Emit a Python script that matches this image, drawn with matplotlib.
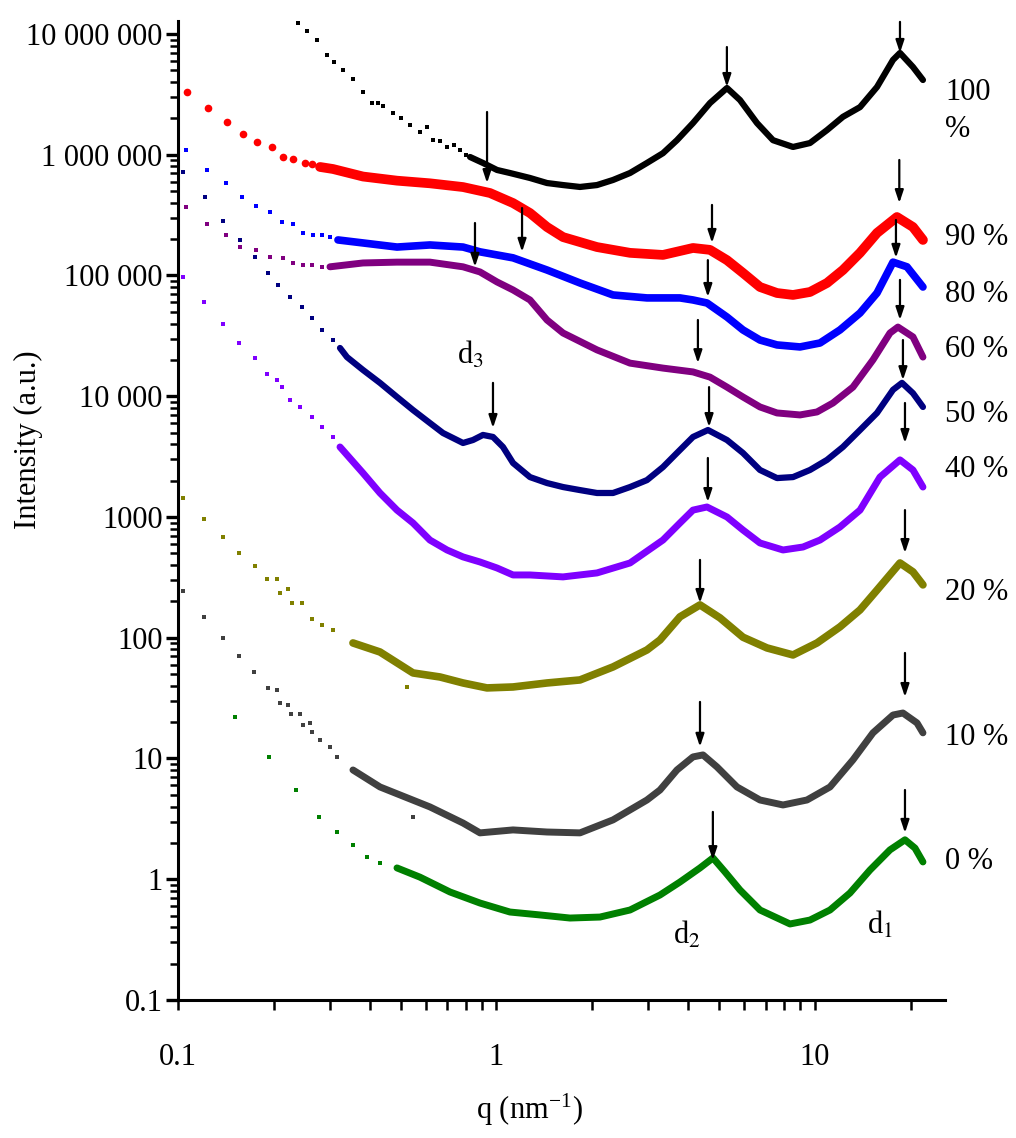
import matplotlib
matplotlib.use("Agg")
import matplotlib.pyplot as plt
from matplotlib.ticker import FixedLocator, FixedFormatter, LogLocator, NullFormatter

plt.rcParams['font.family'] = ['Liberation Serif', 'DejaVu Serif']
plt.rcParams['mathtext.fontset'] = 'stix'

# ---- data: q (nm^-1) and intensity (a.u.) ----
# sparse low-q points (drawn as dots) and dense part (drawn as a thick band)

# 100 %
q100_dots = [0.238, 0.254, 0.273, 0.293, 0.309, 0.330, 0.354, 0.381, 0.407, 0.425, 0.440,
             0.473, 0.500, 0.535, 0.575, 0.605, 0.632, 0.665, 0.699, 0.735, 0.768, 0.800]
i100_dots = [1.23e7, 1.06e7, 8.9e6, 6.7e6, 5.9e6, 5.0e6, 4.2e6, 3.3e6, 2.7e6, 2.7e6, 2.54e6,
             2.2e6, 2.0e6, 1.76e6, 1.54e6, 1.70e6, 1.32e6, 1.30e6, 1.16e6, 1.20e6, 1.09e6,
             1.0e6]
q100 = [0.826, 0.907, 1.004, 1.102, 1.274, 1.441, 1.618, 1.829, 2.068, 2.322, 2.626,
        2.968, 3.332, 3.687, 4.140, 4.681, 5.293, 5.814, 6.576, 7.383, 8.532, 9.645,
        10.91, 12.24, 13.85, 15.66, 17.58, 18.49, 20.31, 21.83]
i100 = [9.58e5, 8.55e5, 7.48e5, 7.06e5, 6.42e5, 5.83e5, 5.61e5, 5.41e5, 5.61e5, 6.18e5,
        7.06e5, 8.55e5, 1.03e6, 1.32e6, 1.83e6, 2.68e6, 3.57e6, 2.84e6, 1.83e6, 1.32e6,
        1.16e6, 1.25e6, 1.60e6, 2.06e6, 2.48e6, 3.64e6, 6.10e6, 6.97e6, 5.33e6, 4.16e6]

# 90 %
q90_dots = [0.1067, 0.1242, 0.1425, 0.1600, 0.1770, 0.1973, 0.2137, 0.2297, 0.2504, 0.2635]
i90_dots = [3.31e6, 2.44e6, 1.87e6, 1.49e6, 1.28e6, 1.16e6, 9.58e5, 9.22e5, 8.55e5, 8.38e5]
q90 = [0.2792, 0.3066, 0.3810, 0.4871, 0.6180, 0.7851, 0.9541, 1.127, 1.274, 1.441,
       1.618, 2.068, 2.626, 3.332, 4.140, 4.681, 5.293, 5.942, 6.720, 7.600, 8.532,
       9.645, 10.91, 12.24, 13.85, 15.66, 18.09, 20.31, 21.83]
i90 = [7.92e5, 7.62e5, 6.6e5, 6.1e5, 5.8e5, 5.4e5, 4.82e5, 3.98e5, 3.29e5, 2.52e5,
       2.08e5, 1.72e5, 1.54e5, 1.48e5, 1.69e5, 1.63e5, 1.34e5, 1.05e5, 8.03e4, 7.16e4,
       6.90e4, 7.30e4, 8.67e4, 1.11e5, 1.54e5, 2.25e5, 3.05e5, 2.52e5, 1.97e5]

# 80 %
q80_dots = [0.1060, 0.1233, 0.1415, 0.1588, 0.1758, 0.1945, 0.2122, 0.2297, 0.2469,
            0.2654, 0.2833, 0.3000]
i80_dots = [1.094e6, 7.48e5, 5.83e5, 4.47e5, 3.76e5, 3.36e5, 2.77e5, 2.67e5, 2.25e5,
            2.16e5, 2.16e5, 2.08e5]
q80 = [0.3179, 0.3810, 0.4871, 0.6180, 0.7851, 0.8875, 1.127, 1.441, 1.829, 2.322,
       2.968, 3.768, 4.140, 4.581, 5.293, 5.942, 6.720, 7.600, 8.974, 10.37, 11.98,
       13.85, 15.66, 17.58, 19.45, 21.83]
i80 = [1.97e5, 1.86e5, 1.72e5, 1.79e5, 1.72e5, 1.57e5, 1.40e5, 1.11e5, 8.67e4, 6.90e4,
       6.52e4, 6.52e4, 6.27e4, 5.92e4, 4.53e4, 3.54e4, 2.92e4, 2.66e4, 2.56e4, 2.76e4,
       3.54e4, 4.89e4, 7.16e4, 1.29e5, 1.18e5, 8.03e4]

# 60 %
q60_dots = [0.1060, 0.1233, 0.1415, 0.1566, 0.1758, 0.1945, 0.2137, 0.2297, 0.2469,
            0.2635, 0.2833]
i60_dots = [3.69e5, 2.67e5, 2.16e5, 1.72e5, 1.63e5, 1.42e5, 1.40e5, 1.27e5, 1.22e5,
            1.22e5, 1.18e5]
q60 = [0.3000, 0.3810, 0.4871, 0.6180, 0.7851, 0.8875, 1.004, 1.127, 1.274, 1.441,
       1.618, 2.068, 2.626, 3.332, 4.140, 4.681, 5.293, 5.942, 6.720, 7.600, 8.974,
       10.15, 11.39, 13.16, 15.21, 17.20, 18.22, 20.31, 21.83]
i60 = [1.18e5, 1.27e5, 1.29e5, 1.29e5, 1.18e5, 1.07e5, 8.84e4, 7.59e4, 6.27e4, 4.28e4,
       3.34e4, 2.42e4, 1.88e4, 1.71e4, 1.59e4, 1.44e4, 1.19e4, 9.86e3, 8.15e3, 7.27e3,
       7.00e3, 7.41e3, 8.79e3, 1.19e4, 2.00e4, 3.34e4, 3.74e4, 3.10e4, 2.11e4]

# 50 %
q50_dots = [0.1037, 0.1216, 0.1384, 0.1566, 0.1745, 0.1917, 0.2061, 0.2247, 0.2451,
            0.2635, 0.2833, 0.3066]
i50_dots = [7.20e5, 4.47e5, 2.83e5, 1.97e5, 1.42e5, 1.05e5, 8.35e4, 6.64e4, 5.49e4,
            4.44e4, 3.54e4, 2.92e4]
q50 = [0.3226, 0.3393, 0.3810, 0.4307, 0.4871, 0.5468, 0.6180, 0.6793, 0.7851, 0.8437,
       0.9070, 0.9750, 1.048, 1.127, 1.274, 1.441, 1.618, 1.829, 2.068, 2.322, 2.626,
       2.968, 3.332, 3.687, 4.140, 4.614, 5.293, 5.942, 6.720, 7.600, 8.532, 9.645,
       10.91, 12.24, 13.85, 15.66, 17.58, 18.76, 20.31, 21.83]
i50 = [2.51e4, 2.11e4, 1.65e4, 1.29e4, 9.86e3, 7.69e3, 6.00e3, 4.96e3, 4.10e3, 4.34e3,
       4.78e3, 4.60e3, 3.80e3, 2.80e3, 2.14e3, 1.91e3, 1.77e3, 1.67e3, 1.58e3, 1.58e3,
       1.77e3, 2.02e3, 2.59e3, 3.39e3, 4.60e3, 5.25e3, 4.34e3, 3.39e3, 2.45e3, 2.10e3,
       2.14e3, 2.45e3, 2.97e3, 3.80e3, 5.25e3, 7.27e3, 1.13e4, 1.29e4, 1.06e4, 8.15e3]

# 40 %
q40_dots = [0.1037, 0.1207, 0.1384, 0.1554, 0.1745, 0.1903, 0.2046, 0.2122, 0.2247,
            0.2415, 0.2635, 0.2833, 0.3066]
i40_dots = [9.73e4, 6.04e4, 3.96e4, 2.76e4, 2.07e4, 1.53e4, 1.36e4, 1.19e4, 9.31e3,
            8.15e3, 6.73e3, 5.56e3, 4.60e3]
q40 = [0.3226, 0.3810, 0.4307, 0.4871, 0.5468, 0.6180, 0.6992, 0.7851, 0.8875, 1.004,
       1.127, 1.274, 1.618, 2.068, 2.626, 3.332, 3.768, 4.140, 4.581, 5.293, 5.942,
       6.720, 7.937, 9.171, 10.37, 11.98, 13.85, 16.00, 18.49, 20.31, 21.83]
i40 = [3.80e3, 2.31e3, 1.58e3, 1.14e3, 892, 644, 533, 467, 424, 378, 331, 331, 319,
       344, 416, 644, 892, 1.14e3, 1.21e3, 1.00e3, 780, 609, 533, 564, 644, 826,
       1.14e3, 2.14e3, 2.97e3, 2.45e3, 1.77e3]

# 20 %
q20_dots = [0.1037, 0.1207, 0.1384, 0.1554, 0.1745, 0.1903, 0.2046, 0.2091, 0.2215,
            0.2280, 0.2451, 0.2635, 0.2833, 0.3066, 0.5236]
i20_dots = [1.44e3, 961, 683, 503, 393, 306, 306, 235, 254, 194, 194, 143, 128, 116, 39.1]
q20 = [0.3543, 0.4307, 0.5468, 0.6647, 0.7851, 0.9337, 1.127, 1.441, 1.829, 2.322,
       2.968, 3.261, 3.768, 4.355, 5.032, 5.942, 7.070, 8.532, 10.15, 11.98, 13.85,
       15.66, 18.49, 20.31, 21.83]
i20 = [90.5, 76.2, 51.1, 47.3, 42.2, 38.4, 39.1, 42.2, 44.7, 57.3, 79.2, 95.8, 149,
       187, 146, 101, 82.3, 72.0, 90.5, 123, 170, 248, 416, 351, 274]

# 10 %
q10_dots = [0.1037, 0.1207, 0.1384, 0.1554, 0.1733, 0.1917, 0.2046, 0.2091, 0.2215,
            0.2264, 0.2415, 0.2469, 0.2597, 0.2635, 0.2792, 0.3000, 0.3156, 0.5468]
i10_dots = [244, 149, 99.5, 70.6, 52.0, 38.4, 36.9, 28.8, 27.7, 23.4, 23.4, 19.0, 19.7,
            16.6, 14.2, 12.5, 10.3, 3.28]
q10 = [0.3543, 0.4307, 0.6180, 0.7851, 0.8875, 1.127, 1.441, 1.829, 2.322, 2.968,
       3.261, 3.687, 4.140, 4.451, 4.924, 5.690, 6.720, 7.937, 9.439, 11.15, 13.16,
       15.21, 17.58, 18.89, 20.91, 21.83]
i10 = [8.03, 5.81, 3.97, 2.92, 2.42, 2.56, 2.46, 2.42, 3.10, 4.53, 5.48, 8.03, 10.3,
       10.7, 8.51, 5.81, 4.53, 4.12, 4.53, 5.81, 9.73, 16.3, 22.9, 23.8, 19.7, 16.3]

# 0 %
q0_dots = [0.1510, 0.1931, 0.2347, 0.2772, 0.3156, 0.3543, 0.3921, 0.4307]
i0_dots = [22.1, 10.3, 5.48, 3.28, 2.46, 1.92, 1.53, 1.36]
q0 = [0.4871, 0.5751, 0.7145, 0.8875, 1.102, 1.369, 1.701, 2.113, 2.626, 3.261, 3.768,
      4.355, 4.784, 5.217, 5.814, 6.720, 8.349, 9.645, 11.15, 12.88, 14.88, 17.20,
      19.17, 20.61, 21.83]
i0 = [1.24, 1.04, 0.784, 0.635, 0.535, 0.506, 0.477, 0.486, 0.556, 0.740, 0.948, 1.24,
      1.50, 1.15, 0.815, 0.556, 0.426, 0.459, 0.556, 0.769, 1.19, 1.75, 2.12, 1.81, 1.39]

labels = ['100\n%', '90 %', '80 %', '60 %', '50 %', '40 %', '20 %', '10 %', '0 %']
label_y = [2.3e6, 2.08e5, 6.9e4, 2.42e4, 7.0e3, 2.45e3, 235, 14.8, 1.39]
colors = ['#000000', '#ff0000', '#0000ff', '#800080', '#000080', '#7f00ff',
          '#808000', '#404040', '#008000']

# peak markers (arrows): position, top and tip intensity
arrow_q = [0.934, 5.29, 18.49, 1.203, 0.856, 4.75, 18.4, 4.61, 17.96, 4.29, 18.49,
           0.975, 4.65, 18.89, 4.61, 19.17, 4.355, 19.17, 4.355, 19.17, 4.78, 19.17]
arrow_top = [2.26e6, 7.8e6, 1.26e7, 3.62e5, 2.72e5, 3.84e5, 9.05e5, 1.34e5, 2.88e5,
             4.28e4, 9.19e4, 1.29e4, 1.19e4, 2.92e4, 3.08e3, 8.79e3, 441, 1.14e3,
             29.4, 74.8, 3.61, 5.48]
arrow_tip = [5.83e5, 3.64e6, 6.97e6, 1.57e5, 1.18e5, 1.86e5, 3.98e5, 6.64e4, 1.40e5,
             1.88e4, 4.28e4, 5.46e3, 5.56e3, 1.36e4, 1.33e3, 4.10e3, 194, 503,
             12.5, 32.3, 1.44, 2.42]

dots = [(q100_dots, i100_dots), (q90_dots, i90_dots), (q80_dots, i80_dots),
        (q60_dots, i60_dots), (q50_dots, i50_dots), (q40_dots, i40_dots),
        (q20_dots, i20_dots), (q10_dots, i10_dots), (q0_dots, i0_dots)]
bands = [(q100, i100), (q90, i90), (q80, i80), (q60, i60), (q50, i50), (q40, i40),
         (q20, i20), (q10, i10), (q0, i0)]
band_lw = [4.5, 7, 5.5, 5, 4.5, 5, 5.5, 5, 5]

fig = plt.figure(figsize=(10.16, 11.38), dpi=100)
ax = fig.add_axes([0.1752, 0.1213, 0.7549, 0.8602])

for k in range(len(labels)):
    dq, di = dots[k]
    bq, bi = bands[k]
    if k == 1:
        ax.plot(dq, di, 'o', color=colors[k], ms=5.5, mew=0)
    else:
        ax.plot(dq, di, 's', color=colors[k], ms=3.5, mew=0)
    ax.plot(bq, bi, '-', color=colors[k], lw=band_lw[k], solid_capstyle='round',
            solid_joinstyle='round')
    ax.text(1.0, label_y[k], labels[k], transform=ax.get_yaxis_transform(),
            ha='left', va='center', fontsize=22, linespacing=1.35, clip_on=False)

for q, top, tip in zip(arrow_q, arrow_top, arrow_tip):
    ax.annotate('', xy=(q, tip), xytext=(q, top),
                arrowprops=dict(arrowstyle='-|>,head_width=0.25,head_length=0.75',
                                color='black', lw=1.6, shrinkA=0, shrinkB=0))

ax.text(0.83, 2.2e4, r'd$_{3}$', fontsize=22, ha='center', va='center')
ax.text(3.95, 0.345, r'd$_{2}$', fontsize=22, ha='center', va='center')
ax.text(16.0, 0.418, r'd$_{1}$', fontsize=22, ha='center', va='center')

ax.set_xscale('log')
ax.set_yscale('log')
ax.set_xlim(0.1, 25.6)
ax.set_ylim(0.1, 1.28e7)

for s in ['top', 'right']:
    ax.spines[s].set_visible(False)
for s in ['left', 'bottom']:
    ax.spines[s].set_linewidth(2.2)

yt = [0.1, 1, 10, 100, 1000, 1e4, 1e5, 1e6, 1e7]
yl = ['0.1', '1', '10', '100', '1000', '10 000', '100 000', '1 000 000', '10 000 000']
ax.yaxis.set_major_locator(FixedLocator(yt))
ax.yaxis.set_major_formatter(FixedFormatter(yl))
ax.yaxis.set_minor_locator(LogLocator(base=10, subs=range(2, 10), numticks=20))
ax.yaxis.set_minor_formatter(NullFormatter())

xt = [0.1, 1, 10]
ax.xaxis.set_major_locator(FixedLocator(xt))
ax.xaxis.set_major_formatter(FixedFormatter(['0.1', '1', '10']))
ax.xaxis.set_minor_locator(LogLocator(base=10, subs=range(2, 10), numticks=20))
ax.xaxis.set_minor_formatter(NullFormatter())

ax.tick_params(axis='y', which='major', direction='out', length=9, width=2.4,
               labelsize=22, pad=2)
ax.tick_params(axis='y', which='minor', direction='out', length=6, width=1.8)
ax.tick_params(axis='x', which='both', direction='out', length=7, width=1.8,
               labelsize=22, pad=24)

fig.text(28 / 1016, 1 - 440 / 1138, 'Intensity (a.u.)', rotation=90,
         ha='center', va='center', fontsize=22)
fig.text(530 / 1016, 1 - 1110 / 1138, r'q (nm$^{\mathregular{-1}}$)',
         ha='center', va='center', fontsize=22)

fig.savefig('out.png', dpi=100)
